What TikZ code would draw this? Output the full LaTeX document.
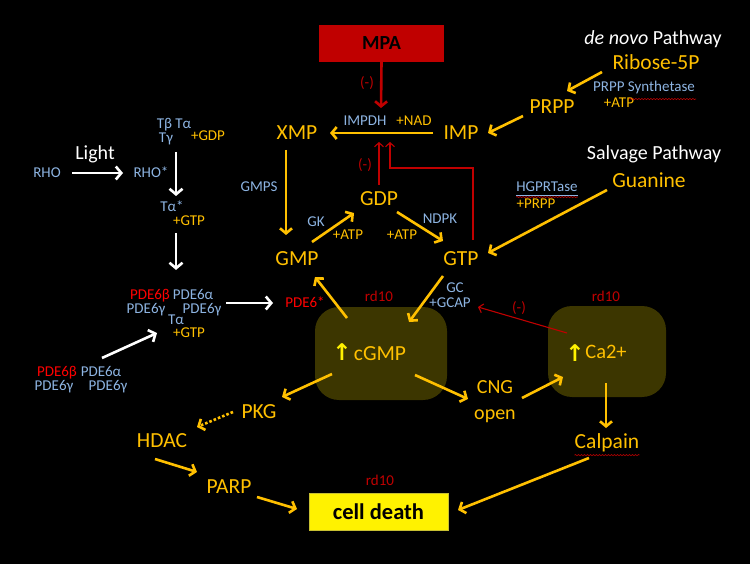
\documentclass[tikz,border=0pt]{standalone}
\usepackage{fontspec}
\setmainfont{Carlito}
\newfontfamily\djv{DejaVu Sans}
\usetikzlibrary{arrows.meta,decorations.pathmorphing}
\definecolor{orC}{HTML}{FFC000}
\definecolor{blC}{HTML}{8DB4E2}
\definecolor{rdC}{HTML}{FF0000}
\definecolor{drC}{HTML}{C00000}
\definecolor{olC}{HTML}{3C3600}
\begin{document}
\begin{tikzpicture}[x=1pt,y=-1pt,
  big/.style={font=\fontsize{21.5}{24}\selectfont, text=orC, inner sep=0pt, text height=13.8pt, text depth=0pt},
  ttl/.style={font=\fontsize{20}{22}\selectfont, text=white, inner sep=0pt, text height=12.9pt, text depth=0pt},
  sm/.style={font=\fontsize{15}{17}\selectfont, inner sep=0pt, text height=9.7pt, text depth=0pt},
  bl/.style={sm, text=blC},
  osm/.style={sm, text=orC},
  rsm/.style={sm, text=rdC},
  dsm/.style={sm, text=drC},
  oarr/.style={draw=orC, line width=2.6pt, -{Straight Barb[length=5pt,width=12pt]}},
  warr/.style={draw=white, line width=2.6pt, -{Straight Barb[length=5.5pt,width=13pt]}},
  rarr/.style={draw=drC, line width=1.1pt, -{Straight Barb[length=4pt,width=9pt]}},
  marr/.style={draw=drC, line width=2.6pt, -{Straight Barb[length=5pt,width=12pt]}},
  wavy/.style={draw=drC, line width=0.6pt, decorate, decoration={snake, amplitude=0.6pt, segment length=3pt}},
  olbox/.style={fill=olC, rounded corners=24pt, inner sep=0pt},
  upg/.style={text=yellow, font=\djv\bfseries\fontsize{23}{24}\selectfont, inner sep=0pt}
]
\fill[black] (0,0) rectangle (750,564);
\useasboundingbox (0,0) rectangle (750,564);

% boxes
\node[fill=drC, minimum width=125pt, minimum height=37pt, inner sep=0pt,
      font=\bfseries\fontsize{20}{21}\selectfont, text=black] (MPA) at (381.5,43.5) {MPA};
\node[olbox, minimum width=132pt, minimum height=93pt] (cgbox) at (381,353.5) {};
\node[olbox, minimum width=118pt, minimum height=91pt] (cabox) at (607,351.5) {};
\node[fill=yellow, draw=yellow!75!black, line width=0.6pt, minimum width=139pt, minimum height=37pt, inner sep=0pt,
      font=\bfseries\fontsize{22.5}{24}\selectfont, text=black] (cd) at (378.5,511.5) {cell death};

% titles
\node[ttl] (dn) at (653,38) {\textit{de novo} Pathway};
\node[ttl] (sv) at (654,153) {Salvage Pathway};
\node[ttl] (light) at (95,153) {Light};

% main metabolites
\node[big] (XMP) at (297,133) {XMP};
\node[big] (IMP) at (461,133) {IMP};
\node[big] (PRPP) at (552,107) {PRPP};
\node[big] (Rib) at (656,63) {Ribose-5P};
\node[big] (GMP) at (297,259) {GMP};
\node[big] (GDP) at (379,199) {GDP};
\node[big] (GTP) at (461,259) {GTP};
\node[big] (Gua) at (649,181) {Guanine};
\node[big] (cGMP) at (380,354) {cGMP};
\node[upg] (upc) at (342,352) {↑};
\node[big, font=\fontsize{20.5}{24}\selectfont] (Ca) at (606,352) {Ca2+};
\node[upg] (upca) at (575,353) {↑};
\node[big, font=\fontsize{20}{24}\selectfont] (CNG) at (495,387) {CNG};
\node[big, font=\fontsize{20}{24}\selectfont] (open) at (495,413) {open};
\node[big] (Calp) at (607,442) {Calpain};
\node[big] (PKG) at (259,412) {PKG};
\node[big] (HDAC) at (162,441) {HDAC};
\node[big] (PARP) at (229,487) {PARP};

% enzyme labels
\node[dsm] (m1) at (367,83) {(-)};
\node[bl] (impdh) at (365,121) {IMPDH};
\node[osm] (nad) at (414,121) {+NAD};
\node[dsm] (m2) at (365,165) {(-)};
\node[bl] (gmps) at (259,187) {GMPS};
\node[bl] (gk) at (316,222) {GK};
\node[osm] (atp1) at (348,235) {+ATP};
\node[osm] (atp2) at (402,235) {+ATP};
\node[bl] (ndpk) at (440,219) {NDPK};
\node[bl] (prs) at (644,87) {PRPP Synthetase};
\node[osm] (atp3) at (619,103) {+ATP};
\node[bl] (hgp) at (547,187) {HGPRTase};
\node[osm] (prpp2) at (536,204) {+PRPP};
\node[bl] (gc) at (455,288) {GC};
\node[bl] (gcap) at (450,303) {+GCAP};
\node[dsm] (m3) at (519,308) {(-)};
\node[dsm] (rd1) at (379,297) {rd10};
\node[dsm] (rd2) at (606,297) {rd10};
\node[dsm] (rd3) at (380,481) {rd10};
\node[rsm] (pde6s) at (305,303) {PDE6*};

% wavy underlines
\draw[wavy] ([shift={(-15,7)}]prs.south) -- ([shift={(52,7)}]prs.south);
\draw[blC, line width=0.6pt] ([shift={(0,3)}]hgp.south west) -- ([shift={(0,3)}]hgp.south east);
\draw[wavy] ([shift={(0,5)}]hgp.south west) -- ([shift={(0,5)}]hgp.south east);
\draw[wavy] ([shift={(0,6)}]Calp.south west) -- ([shift={(0,6)}]Calp.south east);

% phototransduction
\node[bl] (RHO) at (47,173) {RHO};
\node[bl] (RHOs) at (151,173) {RHO*};
\node[bl] (tbta) at (174,124) {Tβ Tα};
\node[bl] (tg) at (166,138) {Tγ};
\node[osm] (gdp2) at (208,136) {+GDP};
\node[bl] (tas) at (172,207) {Tα*};
\node[osm] (gtp2) at (189,221) {+GTP};
\node[rsm] (cb) at (150,295) {PDE6β};
\node[bl] (ca) at (193,295) {PDE6α};
\node[bl] (cg1) at (146,309) {PDE6γ};
\node[bl] (cg2) at (202,309) {PDE6γ};
\node[bl] (cta) at (176,320) {Tα};
\node[osm] (cgtp) at (189,333) {+GTP};
\node[rsm] (pb) at (57,372) {PDE6β};
\node[bl] (pa) at (101,372) {PDE6α};
\node[bl] (pg1) at (54,386) {PDE6γ};
\node[bl] (pg2) at (108,386) {PDE6γ};

% coordinates for free ends
\coordinate (mpaT) at (381,108);
\coordinate (redA) at (379,142);
\coordinate (redK) at (390,168);
\coordinate (redB) at (390,142);

% red inhibitory connectors
\draw[marr] (MPA.south) -- (mpaT);
\draw[rarr] ([shift={(0,-14)}]GDP.center) -- (redA);
\draw[rarr] ([shift={(12,-19)}]GTP.center) |- (redK) -- (redB);
\draw[rarr] ([shift={(-40,-18.5)}]cabox.center) -- ([shift={(28,4)}]gcap.center);

% orange connectors
\draw[oarr] ([shift={(-28,0)}]IMP.center) -- ([shift={(33,0)}]XMP.center);
\draw[oarr] ([shift={(-11,17)}]XMP.center) -- ([shift={(-11,-24)}]GMP.center);
\draw[oarr] ([shift={(15,-17)}]GMP.center) -- ([shift={(-25,14)}]GDP.center);
\draw[oarr] ([shift={(18,13)}]GDP.center) -- ([shift={(-18,-18)}]GTP.center);
\draw[oarr] ([shift={(-42,9)}]Gua.center) -- ([shift={(27,-6)}]GTP.center);
\draw[oarr] ([shift={(-54,9)}]Rib.center) -- ([shift={(15,-16)}]PRPP.center);
\draw[oarr] ([shift={(-29,9)}]PRPP.center) -- ([shift={(27,0)}]IMP.center);
\draw[oarr] ([shift={(-34,-35.5)}]cgbox.center) -- ([shift={(18,18)}]GMP.center);
\draw[oarr] ([shift={(-18,17)}]GTP.center) -- ([shift={(28,-31.5)}]cgbox.center);
\draw[oarr] ([shift={(34,21.5)}]cgbox.center) -- ([shift={(-27,12)}]CNG.center);
\draw[oarr] ([shift={(27,11)}]CNG.center) -- ([shift={(-44,25.5)}]cabox.center);
\draw[oarr] ([shift={(-1,31.5)}]cabox.center) -- ([shift={(-1,-14)}]Calp.center);
\draw[oarr] ([shift={(-49,20.5)}]cgbox.center) -- ([shift={(23,-15)}]PKG.center);
\draw[oarr, dotted, -{Straight Barb[length=5pt,width=12pt]}] ([shift={(-26,0)}]PKG.center) -- ([shift={(35,-14)}]HDAC.center);
\draw[oarr] ([shift={(-7,18)}]HDAC.center) -- ([shift={(-32,-15)}]PARP.center);
\draw[oarr] ([shift={(28,10)}]PARP.center) -- ([shift={(-81.5,-2.5)}]cd.center);
\draw[oarr] ([shift={(-18,16)}]Calp.center) -- ([shift={(79.5,-1.5)}]cd.center);

% white connectors
\draw[warr] ([shift={(25,0)}]RHO.center) -- ([shift={(-28,0)}]RHOs.center);
\draw[warr] ([shift={(10,14)}]tg.center) -- ([shift={(4,-11)}]tas.center);
\draw[warr] ([shift={(-13,12)}]gtp2.center) -- ([shift={(0,-20)}]cta.center |- ca.north);
\draw[warr] ([shift={(1,-14)}]pa.center) -- ([shift={(-19,13)}]cta.center);
\draw[warr] ([shift={(24,-6)}]cg2.center) -- ([shift={(-32,0)}]pde6s.center);
\end{tikzpicture}
\end{document}
